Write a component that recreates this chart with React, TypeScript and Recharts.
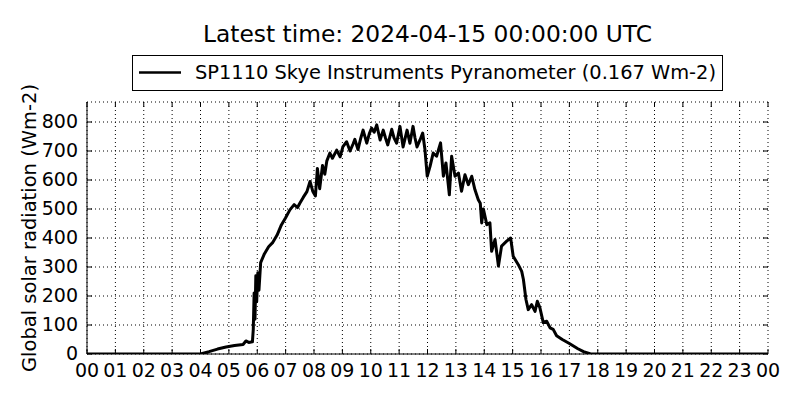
import React from 'react'
import { CartesianGrid, Legend, Line, LineChart, XAxis, YAxis } from 'recharts';

// hours (UTC) and global radiation
const hours = [
    0, 4.0, 4.3, 4.6, 4.9, 5.2, 5.5, 5.6, 5.7, 5.83, 5.86, 5.89, 5.92, 5.95, 5.98, 6.02, 6.06, 6.12,
    6.25, 6.4, 6.55, 6.7, 6.85, 7.0, 7.15, 7.3, 7.42, 7.5, 7.62, 7.75, 7.86, 7.96, 8.05, 8.12, 8.2,
    8.3, 8.38, 8.45, 8.56, 8.65, 8.8, 8.92, 9.02, 9.15, 9.27, 9.38, 9.44, 9.55, 9.65, 9.73, 9.86,
    9.95, 10.03, 10.12, 10.21, 10.33, 10.44, 10.52, 10.6, 10.74, 10.82, 10.91, 11.03, 11.14, 11.28,
    11.38, 11.49, 11.56, 11.63, 11.74, 11.83, 11.91, 11.99, 12.09, 12.2, 12.32, 12.46, 12.56, 12.65,
    12.77, 12.85, 12.97, 13.09, 13.2, 13.32, 13.44, 13.56, 13.67, 13.79, 13.86, 13.91, 13.97, 14.09,
    14.2, 14.26, 14.38, 14.5, 14.61, 14.79, 14.93, 15.02, 15.2, 15.32, 15.38, 15.47, 15.55, 15.67,
    15.79, 15.87, 15.96, 16.08, 16.2, 16.32, 16.43, 16.55, 16.75, 17.0, 17.3, 17.5, 17.75, 24
];
const radiation = [
    0, 0, 8, 17, 24, 29, 33, 45, 40, 42, 85, 210, 120, 270, 180, 280, 220, 315,
    345, 370, 385, 410, 445, 470, 497, 515, 505, 520, 540, 560, 595, 560, 545, 640, 570,
    650, 620, 665, 693, 675, 703, 680, 715, 732, 700, 725, 740, 705, 745, 772, 727,
    760, 779, 765, 790, 738, 772, 745, 721, 775, 745, 727, 785, 714, 772,
    727, 785, 745, 714, 739, 762, 705, 613, 647, 693, 682, 728, 613, 659,
    549, 682, 613, 624, 561, 618, 584, 613, 567, 532, 520, 452, 500, 446,
    452, 354, 395, 303, 372, 389, 400, 337, 308, 285, 257, 188, 153, 170,
    147, 182, 160, 108, 113, 90, 85, 63, 50, 36, 18, 8, 0, 0
];
const hourTicks = [0, 1, 2, 3, 4, 5, 6, 7, 8, 9, 10, 11, 12, 13, 14, 15, 16, 17, 18, 19, 20, 21, 22, 23, 24];
const radiationTicks = [0, 100, 200, 300, 400, 500, 600, 700, 800];

const seriesName = "SP1110 Skye Instruments Pyranometer (0.167 Wm-2)";
const titleText = "Latest time: 2024-04-15 00:00:00 UTC";
const yLabelText = "Global solar radiation (Wm-2)";

const FONT = "'DejaVu Sans', sans-serif";
const PLOT_TOP = 102;
const PLOT_RIGHT = 768;

const data = hours.map((h, i) => ({ hour: h, radiation: radiation[i] }));

const XTick = ({ x, y, payload }: any) => (
    <g>
        <line x1={x} x2={x} y1={y} y2={y - 5} stroke="#000" />
        <line x1={x} x2={x} y1={PLOT_TOP} y2={PLOT_TOP + 5} stroke="#000" />
        <text x={x} y={y + 23} textAnchor="middle" fontSize={19} fontFamily={FONT} fill="#000">
            {String(payload.value % 24).padStart(2, '0')}
        </text>
    </g>
);

const YTick = ({ x, y, payload }: any) => (
    <g>
        <line x1={x} x2={x + 5} y1={y} y2={y} stroke="#000" />
        <line x1={PLOT_RIGHT} x2={PLOT_RIGHT - 5} y1={y} y2={y} stroke="#000" />
        <text x={x - 9} y={y + 6} textAnchor="end" fontSize={19} fontFamily={FONT} fill="#000">
            {payload.value}
        </text>
    </g>
);

const YLabel = ({ viewBox }: any) => {
    const cy = viewBox.y + viewBox.height / 2;
    return (
        <text x={29} y={cy} transform={`rotate(-90, 29, ${cy})`} textAnchor="middle" dominantBaseline="central"
            fontSize={19.5} fontFamily={FONT} fill="#000" textLength={288} lengthAdjust="spacingAndGlyphs">
            {yLabelText}
        </text>
    );
};

const LegendBox = () => (
    <svg width={594} height={38} style={{ display: 'block' }}>
        <rect x={0.5} y={0.5} width={590} height={35} fill="#fff" stroke="#000" />
        <line x1={7} x2={49} y1={17.5} y2={17.5} stroke="#000" strokeWidth={2.5} />
        <text x={63} y={24} fontSize={19.5} fontFamily={FONT} fill="#000" textLength={521} lengthAdjust="spacingAndGlyphs">
            {seriesName}
        </text>
    </svg>
);

export default function App() {
    return (
        <div style={{ position: 'absolute', left: 0, top: 0, width: 800, height: 400, background: '#fff' }}>
            <svg width={800} height={60} style={{ position: 'absolute', left: 0, top: 0 }}>
                <text x={427.5} y={42} textAnchor="middle" fontSize={23} fontFamily={FONT} fill="#000"
                    textLength={449} lengthAdjust="spacingAndGlyphs">
                    {titleText}
                </text>
            </svg>
            <LineChart width={800} height={400} data={data} margin={{ top: 102, right: 32, bottom: 0, left: 0 }}>
                <CartesianGrid stroke="#000" strokeDasharray="1 3" />
                <XAxis dataKey="hour" type="number" domain={[0, 24]} ticks={hourTicks} interval={0}
                    height={46} tickSize={0} tickMargin={0} tickLine={false} tick={<XTick />}
                    axisLine={{ stroke: '#000' }} allowDataOverflow />
                <XAxis xAxisId="top" orientation="top" type="number" domain={[0, 24]} height={0}
                    tick={false} tickLine={false} axisLine={{ stroke: '#000' }} />
                <YAxis type="number" domain={[0, 869]} ticks={radiationTicks} interval={0} width={87}
                    tickSize={0} tickMargin={0} tickLine={false} tick={<YTick />}
                    axisLine={{ stroke: '#000' }} label={{ content: <YLabel /> }} allowDataOverflow />
                <YAxis yAxisId="right" orientation="right" type="number" domain={[0, 869]} width={0}
                    tick={false} tickLine={false} axisLine={{ stroke: '#000' }} />
                <Legend layout="horizontal" verticalAlign="middle" align="center"
                    wrapperStyle={{ top: 55, left: 132, width: 594 }} content={<LegendBox />} />
                <Line type="linear" dataKey="radiation" name={seriesName} stroke="#000" strokeWidth={3}
                    strokeLinejoin="round" dot={false} isAnimationActive={false} />
            </LineChart>
        </div>
    );
}
